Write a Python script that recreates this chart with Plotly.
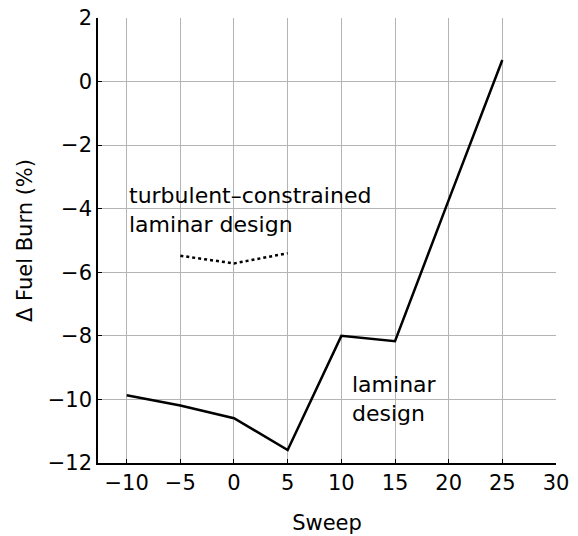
import plotly.graph_objects as go

sweep = [-10, -5, 0, 5, 10, 15, 20, 25]
laminar = [-9.87, -10.19, -10.59, -11.59, -8.0, -8.17, -3.73, 0.68]
sweep_tc = [-5, 0, 5]
turb_constrained = [-5.48, -5.72, -5.40]
x_ticks = [-10, -5, 0, 5, 10, 15, 20, 25, 30]
y_ticks = [-12, -10, -8, -6, -4, -2, 0, 2]

font = "DejaVu Sans"
fs = 21
fig = go.Figure()
fig.add_trace(go.Scatter(x=sweep, y=laminar, mode="lines",
                         line=dict(color="black", width=2.5), showlegend=False))
fig.add_trace(go.Scatter(x=sweep_tc, y=turb_constrained, mode="lines",
                         line=dict(color="black", width=2.5, dash="dot"), showlegend=False))

fig.add_annotation(x=-10, y=-4.03, text="turbulent–constrained<br>laminar design",
                   xanchor="left", yanchor="middle", showarrow=False, align="left",
                   font=dict(family=font, size=22, color="black"))
fig.add_annotation(x=10.8, y=-9.98, text="laminar<br>design",
                   xanchor="left", yanchor="middle", showarrow=False, align="left",
                   font=dict(family=font, size=22, color="black"))

axis_common = dict(showline=True, linecolor="black", linewidth=1.5,
                   gridcolor="#b4b4b4", gridwidth=1, ticks="inside", ticklen=4,
                   tickcolor="black", zeroline=False, mirror=False,
                   ticklabeloverflow="allow", automargin=False,
                   tickfont=dict(family=font, size=fs, color="black"))
fig.update_xaxes(range=[-12.67, 30], tickvals=x_ticks,
                 ticktext=[str(v).replace("-", "−") for v in x_ticks],
                 title=dict(text="Sweep", font=dict(family=font, size=fs, color="black"), standoff=21),
                 **axis_common)
fig.update_yaxes(range=[-12, 2], tickvals=y_ticks,
                 ticktext=[str(v).replace("-", "−") for v in y_ticks],
                 title=dict(text="Δ Fuel Burn (%)", font=dict(family=font, size=fs, color="black"), standoff=9),
                 **axis_common)
fig.update_layout(width=578, height=536, margin=dict(l=98, r=22, t=18, b=73),
                  plot_bgcolor="white", paper_bgcolor="white")
fig.write_html("out.html", config={"displayModeBar": False},
               post_script="document.body.style.margin='0px';")
